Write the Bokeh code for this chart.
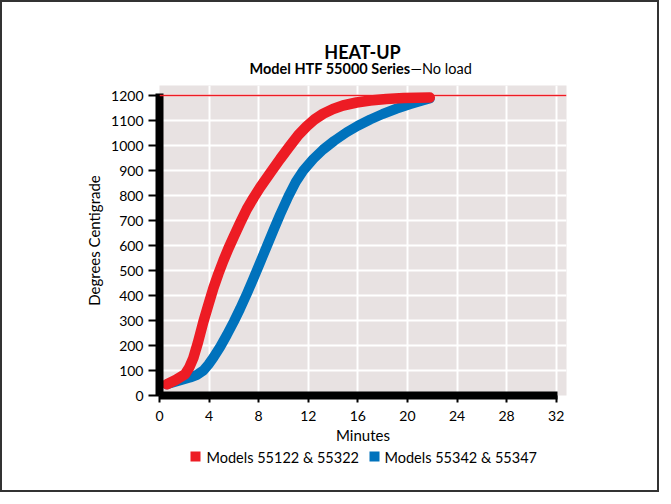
from bokeh.plotting import figure
from bokeh.layouts import column
from bokeh.models import Range1d, FixedTicker, Span
from bokeh.core.properties import value
from bokeh.embed import file_html
from bokeh.resources import INLINE

# ---- data ----
red_min = [0.6, 1.3, 2.06, 2.4, 2.73, 3.1, 3.54, 3.95, 4.35, 4.75, 5.15, 5.55, 5.96,
           6.5, 7.04, 7.6, 8.11, 9.0, 9.73, 10.53, 11.2, 11.88, 12.5, 13.2, 14.0,
           14.8, 15.9, 17.0, 18.3, 19.7, 21.8]
red_temp = [45, 62, 85, 112, 150, 212, 295, 364, 430, 487, 539, 587, 632,
            690, 745, 792, 832, 895, 946, 999, 1042, 1077, 1104, 1127, 1146,
            1160, 1172, 1180, 1186, 1190, 1192]
blue_min = [0.6, 1.5, 2.47, 3.0, 3.54, 3.95, 4.35, 4.9, 5.43, 6.0, 6.5, 7.05, 7.57,
            8.1, 8.65, 9.2, 9.73, 10.4, 11.0, 11.6, 12.4, 13.2, 14.1, 15.1, 16.0,
            17.0, 18.0, 19.1, 20.2, 21.3, 21.8]
blue_temp = [45, 58, 72, 82, 100, 124, 152, 195, 242, 296, 347, 407, 467,
             530, 596, 662, 724, 797, 855, 900, 946, 984, 1019, 1053, 1079,
             1104, 1126, 1147, 1165, 1181, 1188]
x_ticks = [0, 4, 8, 12, 16, 20, 24, 28, 32]
y_ticks = [0, 100, 200, 300, 400, 500, 600, 700, 800, 900, 1000, 1100, 1200]
max_temp = 1200
series_labels = ["Models 55122 & 55322", "Models 55342 & 55347"]
series_colors = ["#ed1c24", "#0072bc"]
title_text = "HEAT-UP"
subtitle_bold = "Model HTF 55000 Series"
subtitle_normal = "\u2014No load"

RED, BLUE = series_colors
FONT = "Lato"
LEFT, FW, RIGHT = 157, 407, 91   # shared horizontal layout of all strips


def strip(h):
    f = figure(frame_width=FW, frame_height=h, output_backend="svg",
               toolbar_location=None, title=None,
               x_range=Range1d(LEFT, LEFT + FW), y_range=Range1d(h, 0),
               x_axis_type=None, y_axis_type=None,
               min_border_left=LEFT, min_border_right=RIGHT,
               min_border_top=0, min_border_bottom=0)
    f.outline_line_color = None
    f.grid.visible = False
    f.background_fill_color = "white"
    f.border_fill_color = "white"
    return f


# ---- title strip ----
top = strip(83)
top.text(x=[360], y=[49], text=[title_text], text_align="center",
         text_baseline="middle", text_font=value(FONT), text_font_size="18px",
         text_font_style="bold", text_color="black")
top.text(x=[408], y=[66], text=[subtitle_bold], text_align="right",
         text_baseline="middle", text_font=value(FONT), text_font_size="14.5px",
         text_font_style="bold", text_color="black")
top.text(x=[408], y=[66], text=[subtitle_normal], text_align="left",
         text_baseline="middle", text_font=value(FONT), text_font_size="14.5px",
         text_font_style="normal", text_color="black")

# ---- main chart ----
p = figure(frame_width=FW, frame_height=310, output_backend="svg", toolbar_location=None,
           title=None, x_range=Range1d(0, 32.83), y_range=Range1d(0, 1240),
           min_border_left=LEFT, min_border_top=0, min_border_right=RIGHT,
           min_border_bottom=52)
p.background_fill_color = "#e8e2e2"
p.border_fill_color = "white"
p.outline_line_color = None

p.xgrid.ticker = FixedTicker(ticks=x_ticks)
p.ygrid.ticker = FixedTicker(ticks=y_ticks)
p.grid.grid_line_color = "white"
p.grid.grid_line_width = 2

for ax in (p.xaxis[0], p.yaxis[0]):
    ax.axis_line_width = 8
    ax.axis_line_color = "black"
    ax.major_tick_line_width = 2
    ax.major_tick_line_color = "black"
    ax.major_tick_in = 0
    ax.minor_tick_line_color = None
    ax.major_label_text_font = FONT
    ax.major_label_text_font_size = "14px"
    ax.major_label_text_color = "black"
    ax.axis_label_text_font = FONT
    ax.axis_label_text_font_size = "15px"
    ax.axis_label_text_font_style = "normal"
    ax.axis_label_text_color = "black"
p.xaxis.ticker = FixedTicker(ticks=x_ticks)
p.yaxis.ticker = FixedTicker(ticks=y_ticks)
p.xaxis.bounds = (0, 32.1)
p.yaxis.bounds = (-16, 1208)
p.xaxis.major_tick_out = 7
p.yaxis.major_tick_out = 11
p.xaxis.axis_label = "Minutes"
p.yaxis.axis_label = "Degrees Centigrade"
p.xaxis.major_label_standoff = 8
p.yaxis.major_label_standoff = 5
p.xaxis.axis_label_standoff = 2
p.yaxis.axis_label_standoff = 5

p.add_layout(Span(location=max_temp, dimension="width", line_color=RED, line_width=1.5))

p.line(blue_min, blue_temp, line_color=BLUE, line_width=10, line_cap="round", line_join="round")
p.line(red_min, red_temp, line_color=RED, line_width=10.5, line_cap="round", line_join="round")

# ---- legend strip ----
bot = strip(43)
sw_x = [193, 372]
lab_x = [204, 382]
bot.rect(x=sw_x, y=[9, 9], width=10, height=10, width_units="screen",
         height_units="screen", fill_color=series_colors, line_color=None)
bot.text(x=lab_x, y=[9.5, 9.5], text=series_labels, text_align="left",
         text_baseline="middle", text_font=value(FONT), text_font_size="14.5px",
         text_color="black")

layout = column(top, p, bot, spacing=0, styles={"border": "2px solid #333"})
open("out.html", "w").write(file_html(layout, INLINE))
